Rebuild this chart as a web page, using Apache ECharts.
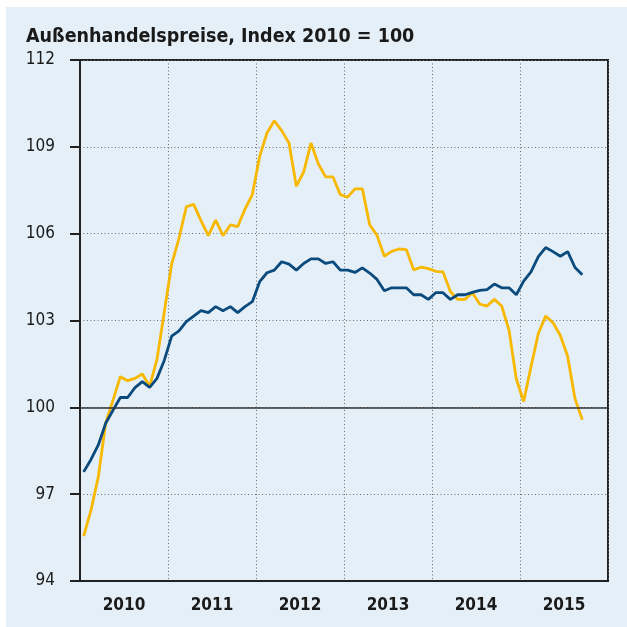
<!DOCTYPE html>
<html>
<head>
<meta charset="utf-8">
<script src="https://cdn.jsdelivr.net/npm/echarts@6/dist/echarts.min.js"></script>
<style>
  html, body { margin: 0; padding: 0; background: #ffffff; }
  .panel { position: absolute; left: 6px; top: 7px; width: 621px; height: 620px; background: #e4eff7; }
  #chart { position: absolute; left: 0; top: 0; width: 627px; height: 627px; }
</style>
</head>
<body>
<div class="panel"></div>
<div id="chart"></div>
<script>
const years = ['2010', '2011', '2012', '2013', '2014', '2015']
const yTicks = [94, 97, 100, 103, 106, 109, 112]

// Einfuhrpreise (gelb), monatlich ab Jan 2010
const importPrices = [
  95.55, 96.45, 97.6, 99.45, 100.25, 101.06, 100.92, 101.0, 101.15, 100.73, 101.66, 103.3,
  104.95, 105.84, 106.93, 107.01, 106.45, 105.93, 106.47, 105.93, 106.3, 106.24, 106.85, 107.35,
  108.67, 109.48, 109.9, 109.56, 109.13, 107.64, 108.13, 109.13, 108.41, 107.96, 107.96, 107.35,
  107.26, 107.55, 107.55, 106.31, 105.94, 105.22, 105.39, 105.47, 105.45, 104.75, 104.84, 104.79,
  104.7, 104.68, 104.0, 103.73, 103.73, 103.96, 103.57, 103.5, 103.73, 103.5, 102.67, 100.98,
  100.2, 101.4, 102.55, 103.15, 102.92, 102.48, 101.76, 100.3, 99.57
]

// Ausfuhrpreise (blau)
const exportPrices = [
  97.77, 98.2, 98.7, 99.45, 99.9, 100.34, 100.34, 100.68, 100.89, 100.69, 101.0, 101.63,
  102.46, 102.64, 102.96, 103.15, 103.34, 103.27, 103.48, 103.34, 103.48, 103.27, 103.48, 103.65,
  104.34, 104.65, 104.74, 105.03, 104.95, 104.74, 104.97, 105.13, 105.13, 104.97, 105.03, 104.74,
  104.74, 104.66, 104.82, 104.64, 104.42, 104.03, 104.13, 104.13, 104.13, 103.89, 103.89, 103.73,
  103.96, 103.96, 103.73, 103.89, 103.89, 103.97, 104.04, 104.07, 104.26, 104.13, 104.13, 103.89,
  104.36, 104.68, 105.21, 105.52, 105.38, 105.22, 105.38, 104.83, 104.58
]

const months = []
years.forEach(y => {
  for (let m = 1; m <= 12; m++) months.push(y + '-' + m)
})

const fontFamily = '"DejaVu Sans Condensed", "Liberation Sans", sans-serif'
const gridDots = { color: '#6b6b6b', width: 1, type: [1, 2.5] }

const chart = echarts.init(document.getElementById('chart'))

chart.setOption({
  animation: false,
  title: {
    text: 'Außenhandelspreise, Index 2010 = 100',
    left: 21,
    top: 22,
    textStyle: { fontFamily, fontSize: 19.5, fontWeight: 'bold', color: '#1a1a1a' }
  },
  grid: {
    left: 80,
    right: 19,
    top: 60,
    bottom: 46,
    show: true,
    borderColor: '#222',
    borderWidth: 2,
    backgroundColor: 'transparent'
  },
  xAxis: [
    {
      type: 'category',
      data: months,
      boundaryGap: true,
      axisLine: { show: true, lineStyle: { color: '#222', width: 2 } },
      axisTick: { show: false },
      axisLabel: { show: false },
      splitLine: {
        show: true,
        interval: (i) => i > 0 && i % 12 === 0,
        lineStyle: gridDots
      }
    },
    {
      type: 'category',
      data: years,
      position: 'bottom',
      boundaryGap: true,
      axisLine: { show: false },
      axisTick: { show: false },
      axisLabel: { fontFamily, fontSize: 17, fontWeight: 'bold', color: '#1a1a1a', margin: 16 }
    }
  ],
  yAxis: {
    type: 'value',
    min: yTicks[0],
    max: yTicks[yTicks.length - 1],
    interval: 3,
    axisLine: { show: true, lineStyle: { color: '#222', width: 2 } },
    axisTick: { show: true, length: 10, lineStyle: { color: '#222', width: 2 } },
    axisLabel: { fontFamily, fontSize: 17, color: '#1a1a1a', margin: 25 },
    splitLine: { show: true, lineStyle: gridDots }
  },
  series: [
    {
      name: 'Einfuhrpreise',
      type: 'line',
      data: importPrices,
      showSymbol: false,
      lineStyle: { color: '#f8b800', width: 2.8 },
      itemStyle: { color: '#f8b800' },
      markLine: {
        silent: true,
        symbol: 'none',
        label: { show: false },
        lineStyle: { color: '#333', width: 1.5, type: 'solid' },
        data: [{ yAxis: 100 }]
      },
      z: 3
    },
    {
      name: 'Ausfuhrpreise',
      type: 'line',
      data: exportPrices,
      showSymbol: false,
      lineStyle: { color: '#0b4a7c', width: 2.8 },
      itemStyle: { color: '#0b4a7c' },
      z: 4
    }
  ]
})
</script>
</body>
</html>
